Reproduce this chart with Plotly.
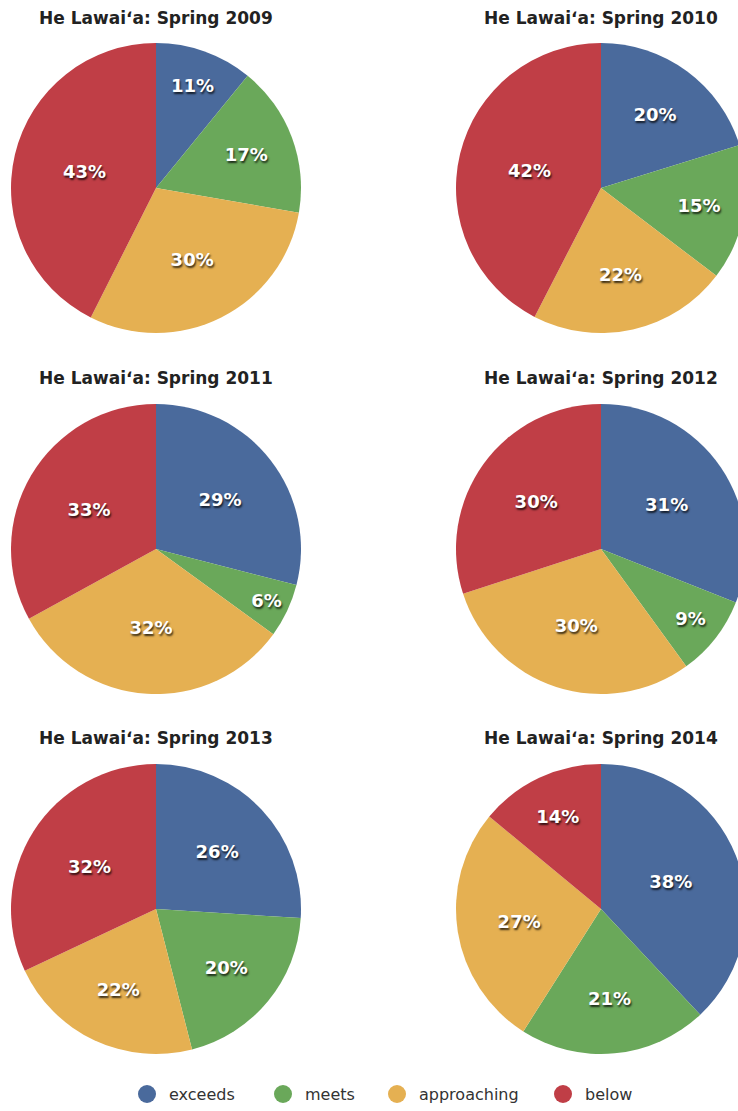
import plotly.graph_objects as go

categories = ["exceeds", "meets", "approaching", "below"]
colors = ["#4a6a9c", "#6aa85a", "#e5b052", "#c03e46"]

titles = [
    "He Lawaiʻa: Spring 2009", "He Lawaiʻa: Spring 2010",
    "He Lawaiʻa: Spring 2011", "He Lawaiʻa: Spring 2012",
    "He Lawaiʻa: Spring 2013", "He Lawaiʻa: Spring 2014",
]
v2009 = [11, 17, 30, 43]
v2010 = [20, 15, 22, 42]
v2011 = [29, 6, 32, 33]
v2012 = [31, 9, 30, 30]
v2013 = [26, 20, 22, 32]
v2014 = [38, 21, 27, 14]
series = [v2009, v2010, v2011, v2012, v2013, v2014]

W, H = 750, 1111
R = 145
col_cx = [156, 601]
row_cy = [188, 549, 909]
title_y = [18, 378, 738]

fig = go.Figure()
for i, vals in enumerate(series):
    r, c = divmod(i, 2)
    cx, cy = col_cx[c], row_cy[r]
    fig.add_trace(go.Pie(
        labels=categories, values=vals, sort=False, direction="clockwise",
        rotation=0,
        marker=dict(colors=colors, line=dict(width=0)),
        texttemplate="%{value}%", textposition="inside",
        insidetextorientation="horizontal",
        textfont=dict(family="DejaVu Sans", size=18, color="white",
                      weight="bold", shadow="1px 2px 2px rgba(0,0,0,0.75)"),
        hoverinfo="label+value",
        showlegend=False,
        domain=dict(x=[(cx - R) / W, (cx + R) / W],
                    y=[1 - (cy + R) / H, 1 - (cy - R) / H]),
    ))
    fig.add_annotation(
        text="<b>%s</b>" % titles[i], x=cx / W, y=1 - title_y[r] / H,
        xref="paper", yref="paper", xanchor="center", yanchor="middle",
        showarrow=False, font=dict(family="DejaVu Sans", size=17, color="#222"),
    )

# legend row
leg_cx = [147, 283, 397, 563]
leg_y = 1094
for name, col, x in zip(categories, colors, leg_cx):
    fig.add_shape(type="circle", xref="paper", yref="paper",
                  x0=(x - 9) / W, x1=(x + 9) / W,
                  y0=1 - (leg_y + 9) / H, y1=1 - (leg_y - 9) / H,
                  fillcolor=col, line=dict(width=0))
    fig.add_annotation(text=name, x=(x + 20) / W, y=1 - leg_y / H,
                       xref="paper", yref="paper", xanchor="left", yanchor="middle",
                       showarrow=False,
                       font=dict(family="DejaVu Sans", size=16, color="#333"))

fig.update_layout(
    width=W, height=H, margin=dict(l=0, r=0, t=0, b=0),
    paper_bgcolor="white", plot_bgcolor="white",
    uniformtext=dict(minsize=18, mode="show"),
)

fig.write_html("out.html", config={"displayModeBar": False},
               post_script="document.body.style.margin='0';document.body.style.overflow='hidden';document.documentElement.style.overflow='hidden';")
